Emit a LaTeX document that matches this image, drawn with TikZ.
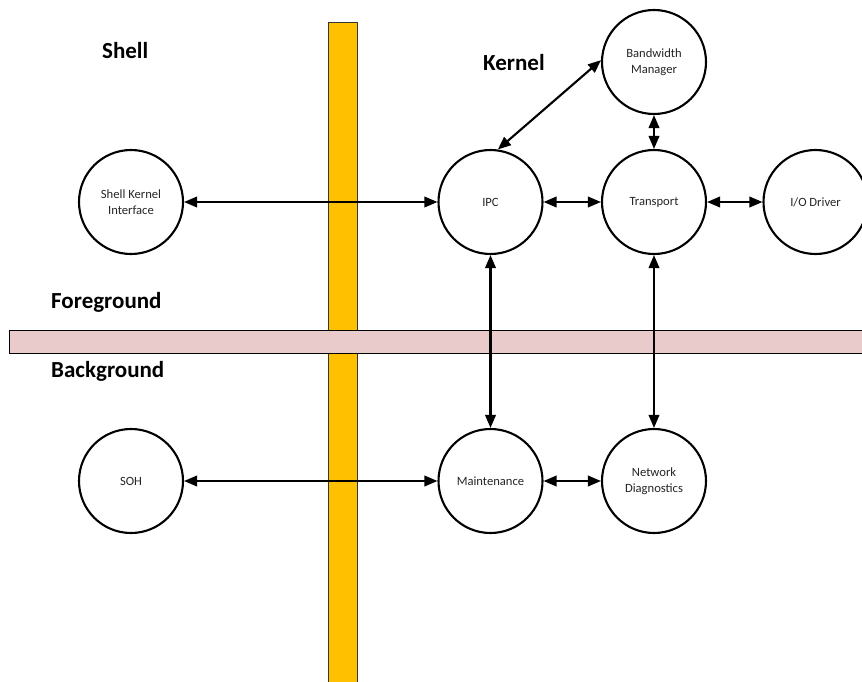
\documentclass[tikz,border=0pt]{standalone}
\usepackage{fontspec}
\setmainfont{Carlito}
\usetikzlibrary{arrows.meta}
\definecolor{barorange}{HTML}{FFC000}
\definecolor{barpink}{HTML}{EACBCB}
\definecolor{labelgray}{HTML}{262626}

\begin{document}
\begin{tikzpicture}[x=1pt,y=-1pt,
  proc/.style={circle, draw=black, line width=2.1pt, fill=white, minimum size=104pt,
    inner sep=0pt, align=center, font=\fontsize{12.6}{16}\selectfont, text=labelgray},
  zone/.style={anchor=base west, inner sep=0pt, font=\fontsize{23}{27}\selectfont\bfseries},
  link/.style={line width=2.1pt, {Triangle[length=13pt,width=10.5pt]}-{Triangle[length=13pt,width=10.5pt]}},
]
\useasboundingbox (0,0) rectangle (862,682);
\fill[white] (0,0) rectangle (862,682);

% shell/kernel divider and foreground/background divider
\draw[fill=barorange, draw=black!80, line width=1pt] (328.5,22.5) rectangle (357.5,700);
\draw[fill=barpink, draw=black, line width=1pt] (9,330.5) rectangle (880,353.5);

% zone labels
\node[zone] (lshell) at (102,59) {Shell};
\node[zone] (lkernel) at (483,70.5) {Kernel};
\node[zone] (lfg) at (51,308) {Foreground};
\node[zone] (lbg) at (51,377) {Background};

% processes
\node[proc] (ski) at (131,202) {Shell Kernel\\Interface};
\node[proc] (ipc) at (490.5,202) {IPC};
\node[proc] (tr)  at (654,202) {Transport};
\node[proc] (io)  at (815.5,202) {I/O Driver};
\node[proc] (bw)  at (654,62) {Bandwidth\\Manager};
\node[proc] (soh) at (131,481) {SOH};
\node[proc] (mt)  at (490.5,481) {Maintenance};
\node[proc] (nd)  at (654,481) {Network\\Diagnostics};

% connections
\draw[link] (ski) -- (ipc);
\draw[link] (ipc) -- (tr);
\draw[link] (tr) -- (io);
\draw[link] (ipc.82) -- (bw.178);
\draw[link] (bw) -- (tr);
\draw[link] (ipc) -- (mt);
\draw[link] (tr) -- (nd);
\draw[link] (soh) -- (mt);
\draw[link] (mt) -- (nd);
\end{tikzpicture}
\end{document}
